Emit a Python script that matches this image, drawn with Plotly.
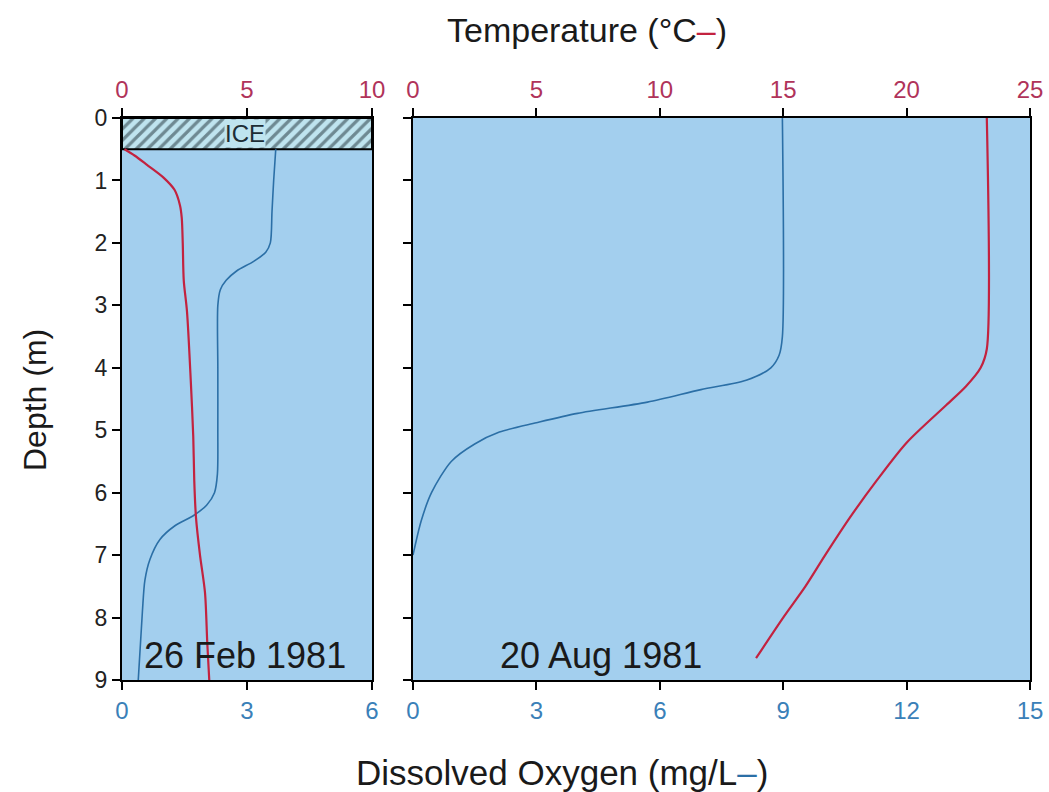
import plotly.graph_objects as go

# 26 Feb 1981 (left panel)
feb_temp_depth = [0.5, 0.6, 0.75, 0.95, 1.15, 1.4, 1.6, 2.0, 2.6, 3.1, 4.2, 5.1, 5.8, 6.4, 7.0, 7.6, 8.4, 9.0]
feb_temp = [0.1, 0.5, 1.0, 1.65, 2.1, 2.32, 2.39, 2.43, 2.47, 2.6, 2.75, 2.85, 2.89, 2.96, 3.12, 3.32, 3.41, 3.49]
feb_do_depth = [0.5, 1.0, 1.5, 2.0, 2.15, 2.3, 2.45, 2.6, 2.75, 3.0, 4.0, 5.0, 5.7, 6.0, 6.2, 6.37, 6.53, 6.75, 7.07, 7.4, 7.9, 9.0]
feb_do = [3.69, 3.64, 3.6, 3.56, 3.45, 3.15, 2.75, 2.5, 2.36, 2.3, 2.3, 2.3, 2.29, 2.22, 2.03, 1.71, 1.27, 0.91, 0.67, 0.55, 0.49, 0.39]
ice_depth = [0, 0.5]

# 20 Aug 1981 (right panel)
aug_temp_depth = [0, 3.7, 4.0, 4.3, 4.6, 5.2, 5.8, 6.4, 7.0, 7.5, 8.0, 8.65]
aug_temp = [23.25, 23.25, 23.0, 22.4, 21.6, 20.0, 18.8, 17.7, 16.7, 15.9, 15.0, 13.9]
aug_do_depth = [0, 3.5, 3.8, 4.0, 4.2, 4.35, 4.55, 4.73, 4.88, 5.03, 5.22, 5.5, 6.0, 6.45, 7.0]
aug_do = [8.98, 8.98, 8.9, 8.7, 8.1, 7.0, 5.7, 4.0, 3.0, 2.1, 1.5, 0.93, 0.45, 0.2, 0.0]

RED = "#c3223f"
BLUE = "#2b6fa6"
TICK_RED = "#b0335a"
TICK_BLUE = "#3a80b8"
BG = "#a3cfee"
ICE_BG = "#bfe4ef"
FONT = "Liberation Sans"
W, H = 1049, 792


def px(x):
    return x / W


def py(y):
    return 1 - y / H


fig = go.Figure()

# ice layer with hatching
fig.add_trace(go.Scatter(
    x=[0, 6, 6, 0, 0], y=[ice_depth[0], ice_depth[0], ice_depth[1], ice_depth[1], ice_depth[0]],
    xaxis="x", yaxis="y", mode="lines", fill="toself",
    fillcolor=ICE_BG,
    fillpattern=dict(shape="/", fgcolor="#1d2e36", bgcolor=ICE_BG, size=8, solidity=0.4),
    line=dict(color="black", width=2), hoverinfo="skip", showlegend=False))

fig.add_trace(go.Scatter(x=feb_do, y=feb_do_depth, xaxis="x", yaxis="y", mode="lines",
                         line=dict(color=BLUE, width=1.6, shape="spline", smoothing=0.8), showlegend=False))
fig.add_trace(go.Scatter(x=feb_temp, y=feb_temp_depth, xaxis="x2", yaxis="y", mode="lines",
                         line=dict(color=RED, width=2.2, shape="spline", smoothing=0.8), showlegend=False))
fig.add_trace(go.Scatter(x=aug_do, y=aug_do_depth, xaxis="x3", yaxis="y2", mode="lines",
                         line=dict(color=BLUE, width=1.6, shape="spline", smoothing=0.8), showlegend=False))
fig.add_trace(go.Scatter(x=aug_temp, y=aug_temp_depth, xaxis="x4", yaxis="y2", mode="lines",
                         line=dict(color=RED, width=2.2, shape="spline", smoothing=0.8), showlegend=False))

ax = dict(ticks="outside", ticklen=8, tickwidth=2, tickcolor="black", showgrid=False, zeroline=False,
          showline=True, linecolor="black", linewidth=2, automargin=False)

left = [px(122), px(372)]
right = [px(413), px(1030)]
ydom = [py(680), py(118)]

fig.update_layout(
    width=W, height=H,
    margin=dict(l=0, r=0, t=0, b=0, autoexpand=False),
    paper_bgcolor="white", plot_bgcolor=BG,
    font=dict(family=FONT, size=23, color="#222"),
    xaxis=dict(ax, domain=left, range=[0, 6], tickvals=[0, 3, 6], anchor="y", side="bottom",
               mirror=True, tickfont=dict(color=TICK_BLUE, size=24)),
    xaxis2=dict(ax, overlaying="x", range=[0, 10], tickvals=[0, 5, 10], anchor="y", side="top",
                tickfont=dict(color=TICK_RED, size=24)),
    xaxis3=dict(ax, domain=right, range=[0, 15], tickvals=[0, 3, 6, 9, 12, 15], anchor="y2", side="bottom",
                mirror=True, tickfont=dict(color=TICK_BLUE, size=24)),
    xaxis4=dict(ax, overlaying="x3", range=[0, 25], tickvals=[0, 5, 10, 15, 20, 25], anchor="y2", side="top",
                tickfont=dict(color=TICK_RED, size=24)),
    yaxis=dict(ax, domain=ydom, range=[9, 0], dtick=1, anchor="x", mirror=True,
               tickfont=dict(color="#222", size=23)),
    yaxis2=dict(ax, domain=ydom, matches="y", range=[9, 0], dtick=1, anchor="x3", mirror=True,
                showticklabels=False),
)

txt = dict(xref="paper", yref="paper", showarrow=False, xanchor="center", yanchor="middle")
fig.add_annotation(text="ICE", x=2.95, y=0.25, xref="x", yref="y", showarrow=False,
                   xanchor="center", yanchor="middle",
                   font=dict(size=24, color="#1d2e36"), bgcolor=ICE_BG, borderpad=0)
fig.add_annotation(txt, text="26 Feb 1981", x=px(245), y=py(655),
                   font=dict(size=36, color="#1a1a1a"))
fig.add_annotation(txt, text="20 Aug 1981", x=px(601), y=py(655),
                   font=dict(size=36, color="#1a1a1a"))
fig.add_annotation(txt, text="Temperature (°C<span style='color:%s'>–</span>)" % RED,
                   x=px(587), y=py(30), font=dict(size=34, color="#1a1a1a"))
fig.add_annotation(txt, text="Dissolved Oxygen (mg/L<span style='color:%s'>–</span>)" % BLUE,
                   x=px(562), y=py(772), font=dict(size=35, color="#1a1a1a"))
fig.add_annotation(txt, text="Depth (m)", x=px(35), y=py(400), textangle=-90,
                   font=dict(size=32, color="#1a1a1a"))

# drop the default page margin so the figure fills the window exactly
fig.write_html("out.html", config={"displayModeBar": False},
               post_script="document.body.style.margin='0';document.body.style.overflow='hidden';")
